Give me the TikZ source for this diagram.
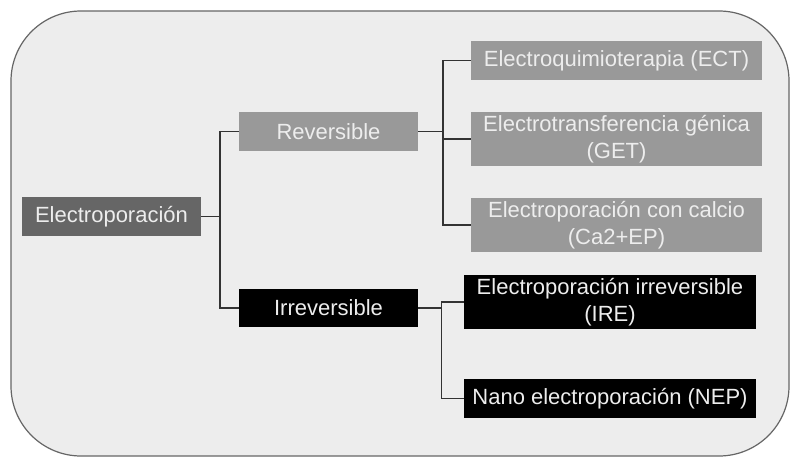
\documentclass[tikz,border=0pt]{standalone}
\usepackage{fontspec}
\setmainfont{Liberation Sans}
\begin{document}
\begin{tikzpicture}[x=1pt,y=-1pt,
  box/.style={draw=none, inner sep=0pt, align=center, text=white!93!black,
    font=\fontsize{22}{27}\selectfont},
  dark/.style={box, fill=black!60},
  mid/.style={box, fill=black!40},
  blk/.style={box, fill=black},
  conn/.style={draw=black!80, line width=1.2pt}]
\useasboundingbox (0,0) rectangle (791,458);
\draw[fill=black!7, draw=black!60, line width=1.2pt, rounded corners=70pt] (11,11) rectangle (789,456);
\node[dark, minimum width=179pt, minimum height=39pt] (E) at (111.5,216.5) {Electroporación};
\node[mid, minimum width=179pt, minimum height=39pt] (R) at (328.5,131.5) {Reversible};
\node[blk, minimum width=179pt, minimum height=38pt] (I) at (328.5,308) {Irreversible};
\node[mid, minimum width=291pt, minimum height=39pt] (ECT) at (616.5,60.5) {Electroquimioterapia (ECT)};
\node[mid, minimum width=291pt, minimum height=54pt] (GET) at (616.5,139) {Electrotransferencia génica\\(GET)};
\node[mid, minimum width=291pt, minimum height=54pt] (CA) at (616.5,225) {Electroporación con calcio\\(Ca2+EP)};
\node[blk, minimum width=292pt, minimum height=54pt] (IRE) at (610,302) {Electroporación irreversible\\(IRE)};
\node[blk, minimum width=292pt, minimum height=39pt] (NEP) at (610,398.5) {Nano electroporación (NEP)};
\coordinate (j1) at (220,216.5);
\coordinate (j2) at (443,131.5);
\coordinate (j3) at (441.5,308);
\draw[conn] (E.east) -- (j1);
\draw[conn] (j1) |- (R.west);
\draw[conn] (j1) |- (I.west);
\draw[conn] (R.east) -- (j2);
\draw[conn] (j2) |- (ECT.west);
\draw[conn] (j2) |- (GET.west);
\draw[conn] (j2) |- (CA.west);
\draw[conn] (I.east) -- (j3);
\draw[conn] (j3) |- (IRE.west);
\draw[conn] (j3) |- (NEP.west);
\end{tikzpicture}
\end{document}
